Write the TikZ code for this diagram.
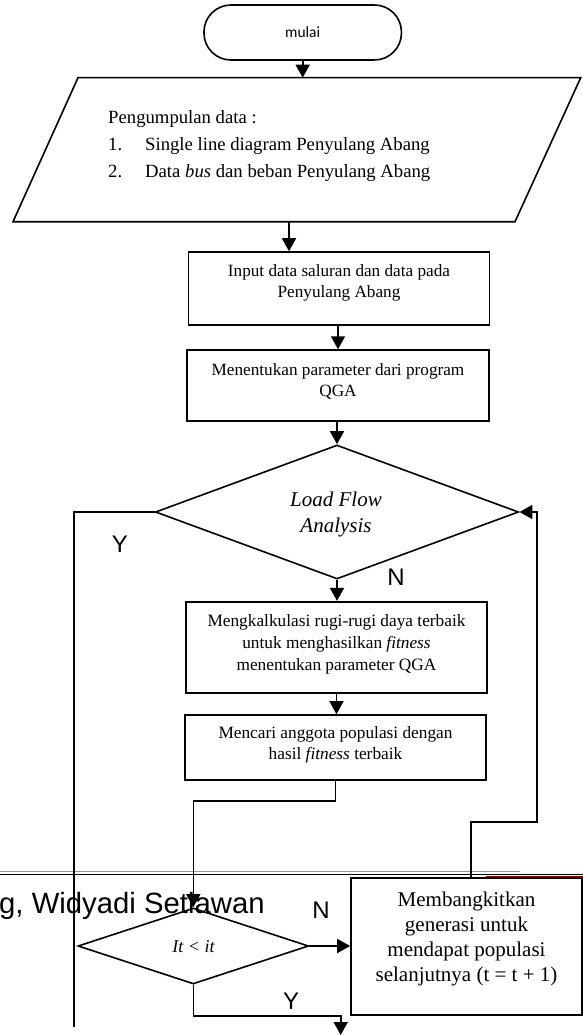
\documentclass[tikz,border=0pt]{standalone}
\usepackage{fontspec}
\setmainfont{Liberation Serif}
\newfontfamily\arialf{Liberation Sans}
\newfontfamily\calibrif{Carlito}
\usetikzlibrary{arrows.meta,shapes.geometric,calc}
\begin{document}
\begin{tikzpicture}[x=1pt,y=-1pt,
  lw/.style={line width=1.6pt},
  arr/.style={lw,-{Triangle[length=13pt,width=14pt]}},
  boxn/.style={draw,lw,rectangle,inner sep=0pt},
  txt/.style={align=center,inner sep=0pt},
  lbl/.style={font=\arialf\fontsize{24}{24}\selectfont,inner sep=0pt},
  dec/.style={draw,lw,diamond,inner sep=0pt}]
\useasboundingbox (0,0) rectangle (583,1035);

% page footer/header remnants
\node[anchor=base west,inner sep=0pt,font=\arialf\fontsize{29.3}{30}\selectfont] (pg) at (-1,913) {g, Widyadi Setiawan};
\draw[gray!80,line width=1pt] (0,871.6) -- (520,871.6);
\draw[line width=1.4pt] (0,874.2) -- (583,874.2);
\draw[red!55!black,line width=1.4pt] (486,876.4) -- (583,876.4);

% start
\node[draw,lw,rounded corners=27pt,minimum width=197.5pt,minimum height=55pt,inner sep=0pt,
  font=\calibrif\fontsize{15.5}{18}\selectfont] (start) at (302.7,32.5) {mulai};

% parallelogram
\coordinate (p1) at (78,77.7);
\coordinate (p2) at (580.7,77.7);
\coordinate (p3) at (515,221.7);
\coordinate (p4) at (13,221.7);
\draw[lw] (p1) -- (p2) -- (p3) -- (p4) -- cycle;
\coordinate (ptop) at (302.7,77.7);
\coordinate (pbot) at (289,221.7);
\node[anchor=west,align=left,inner sep=0pt,font=\fontsize{18.7}{26.7}\selectfont] (ptxt) at (108,146)
  {Pengumpulan data :\\\makebox[37pt][l]{1.}Single line diagram Penyulang Abang\\\makebox[37pt][l]{2.}Data \textit{bus} dan beban Penyulang Abang};

% boxes
\node[boxn,minimum width=301pt,minimum height=73pt] (b1) at (339,288.5) {};
\node[txt,font=\fontsize{17.2}{20.3}\selectfont] (t1) at (339,283) {Input data saluran dan data pada\\Penyulang Abang};

\node[boxn,minimum width=302pt,minimum height=70.7pt] (b2) at (338,385.4) {};
\node[txt,font=\fontsize{17.2}{20.6}\selectfont] (t2) at (338,381.5) {Menentukan parameter dari program\\QGA};

\node[dec,minimum width=363.2pt,minimum height=134pt] (d1) at (337,512) {};
\node[txt,font=\itshape\fontsize{21}{26}\selectfont] (td1) at (336,514.6) {Load Flow\\Analysis};

\node[boxn,minimum width=301pt,minimum height=91pt] (b3) at (336.5,647.2) {};
\node[txt,font=\fontsize{17.3}{22}\selectfont] (t3) at (336.5,644.6) {Mengkalkulasi rugi-rugi daya terbaik\\untuk menghasilkan \textit{fitness}\\menentukan parameter QGA};

\node[boxn,minimum width=301pt,minimum height=65pt] (b4) at (335.5,747.5) {};
\node[txt,font=\fontsize{17.3}{21}\selectfont] (t4) at (335.5,745) {Mencari anggota populasi dengan\\hasil \textit{fitness} terbaik};

\node[dec,minimum width=230.6pt,minimum height=76pt] (d2) at (193.3,946) {};
\node[txt,font=\itshape\fontsize{18}{20}\selectfont] (td2) at (193.5,946.6) {It < it};

\node[boxn,minimum width=231pt,minimum height=137pt] (b5) at (466.5,946.5) {};
\node[txt,font=\fontsize{21}{25}\selectfont] (t5) at (466.5,939.4) {Membangkitkan\\generasi untuk\\mendapat populasi\\selanjutnya (t = t + 1)};

% labels
\node[lbl] (ly1) at (120,544) {Y};
\node[lbl] (ln1) at (396,577) {N};
\node[lbl] (ln2) at (321,910.5) {N};
\node[lbl] (ly2) at (291,1001) {Y};

% connectors
\draw[arr] (start.south) -- (ptop);
\draw[arr] (pbot) -- (pbot |- b1.north);
\draw[arr] (b1.south -| b2.north) -- (b2.north);
\draw[arr] (b2.south -| d1.north) -- (d1.north);
\draw[arr] (d1.south) -- (d1.south |- b3.north);
\draw[arr] (b3.south) -- (b3.south |- b4.north);
\draw[arr] (b4.south) -- ++(0,20) -| (d2.north);
\draw[arr] (d2.east) -- (d2.east -| b5.west);
\coordinate (yc) at (340.7,1016);
\coordinate (endc) at (340.7,1035);
\draw[arr] (d2.south) |- (yc) -- (endc);
\coordinate (lend) at (74,1027);
\draw[lw] (d1.west) -| (lend);
\coordinate (rc) at (537,822);
\draw[arr] ($(b5.north west)+(121,0)$) |- (rc) |- (d1.east);
\end{tikzpicture}
\end{document}
